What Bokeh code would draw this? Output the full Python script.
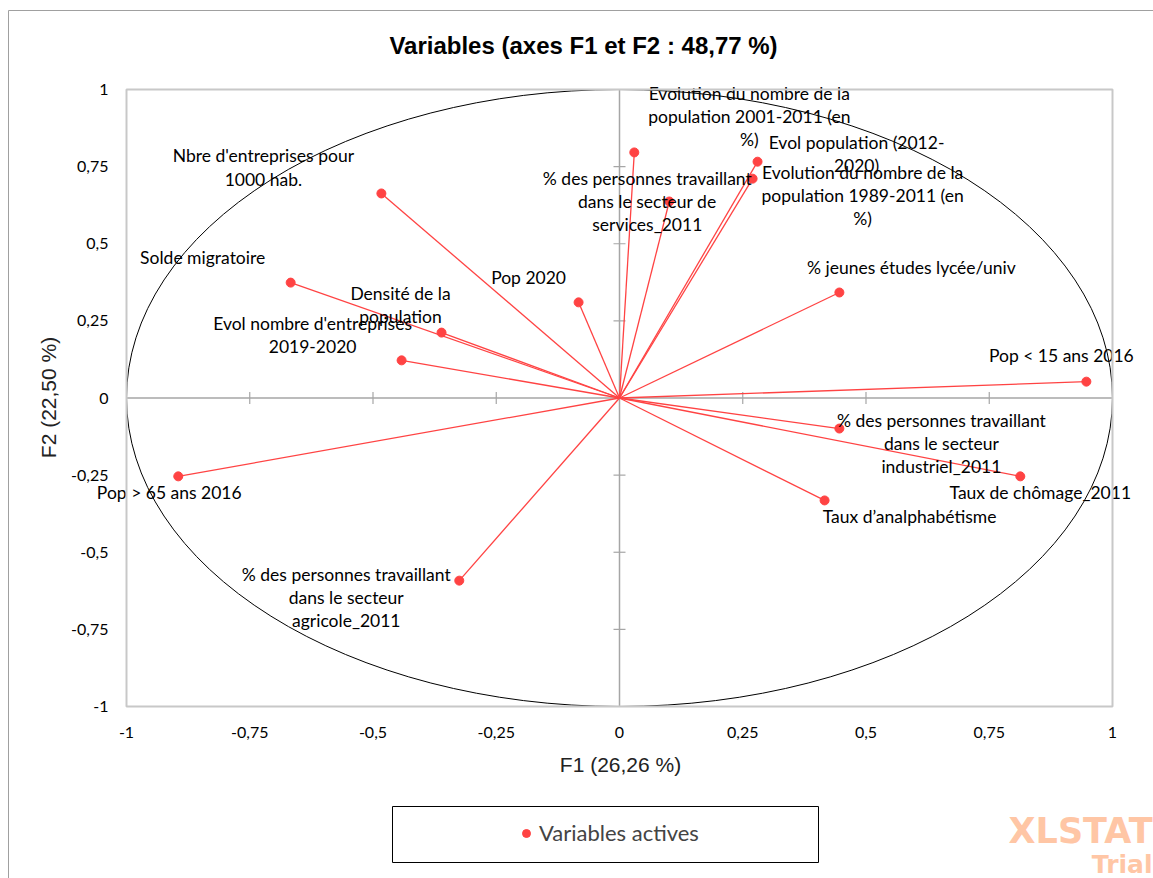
import math
from bokeh.plotting import figure
from bokeh.models import (ColumnDataSource, Label, Legend, LegendItem,
                          BoxAnnotation, FixedTicker)
from bokeh.core.properties import value
from bokeh.embed import file_html
from bokeh.resources import INLINE

# ---------------- data ----------------
variables = [
    "Evolution du nombre de la\npopulation 2001-2011 (en\n%)",
    "Evol population (2012-\n2020)",
    "Evolution du nombre de la\npopulation 1989-2011 (en\n%)",
    "% des personnes travaillant\ndans le secteur de\nservices_2011",
    "Nbre d'entreprises pour\n1000 hab.",
    "Solde migratoire",
    "Densité de la\npopulation",
    "Evol nombre d'entreprises\n2019-2020",
    "Pop 2020",
    "% jeunes études lycée/univ",
    "Pop < 15 ans 2016",
    "% des personnes travaillant\ndans le secteur\nindustriel_2011",
    "Taux de chômage_2011",
    "Taux d’analphabétisme",
    "Pop > 65 ans 2016",
    "% des personnes travaillant\ndans le secteur\nagricole_2011",
]
f1 = [0.030, 0.280, 0.270, 0.101, -0.483, -0.667, -0.361, -0.442,
      -0.083, 0.446, 0.947, 0.446, 0.813, 0.416, -0.895, -0.325]
f2 = [0.796, 0.766, 0.711, 0.637, 0.663, 0.374, 0.212, 0.122,
      0.310, 0.342, 0.053, -0.099, -0.254, -0.332, -0.254, -0.592]

ticks = [-1, -0.75, -0.5, -0.25, 0, 0.25, 0.5, 0.75, 1]
tick_labels = ["-1", "-0,75", "-0,5", "-0,25", "0", "0,25", "0,5", "0,75", "1"]

title_text = "Variables (axes F1 et F2 : 48,77 %)"
xlabel_text = "F1 (26,26 %)"
ylabel_text = "F2 (22,50 %)"
legend_text = "Variables actives"

# label placement (pixel offsets from each point)
label_dx = [115, 99, 110, -22, -118, -88, -41, -89, -50, 72, -25, 102, 20, 85, -9, -113]
label_dy = [-36, -8, 17, 0, -26, -25, -28, -25, -25, -25, -26, 15, 16, 16, 16, 17]

# ---------------- figure ----------------
W, H = 1153, 878
RED = "#FF4343"
GREY = "#A6A6A6"

# plotting box: x=-1..1 -> px 126..1112 ; y=1..-1 -> px 89..706
sx = (1112 - 126) / 2.0
sy = (706 - 89) / 2.0
x_rng = (-1 - 126 / sx, 1 + (W - 1112) / sx)
y_rng = (-1 - (H - 706) / sy, 1 + 89 / sy)

p = figure(width=W, height=H, x_range=x_rng, y_range=y_rng,
           min_border=0, min_border_left=0, min_border_right=0,
           min_border_top=0, min_border_bottom=0,
           output_backend="svg", toolbar_location=None,
           background_fill_color="white", border_fill_color="white")
p.title.visible = False
p.grid.visible = False
p.outline_line_color = None

for ax in (p.xaxis[0], p.yaxis[0]):
    ax.fixed_location = -1
    ax.ticker = FixedTicker(ticks=ticks)
    ax.major_label_overrides = dict(zip(ticks, tick_labels))
    ax.axis_line_color = None
    ax.major_tick_line_color = None
    ax.minor_tick_line_color = None
    ax.major_label_text_font = "Lato"
    ax.major_label_text_font_size = "16px"
    ax.major_label_text_color = "black"
p.xaxis.major_label_standoff = 14
p.yaxis.major_label_standoff = 12

# plotting box outline
p.add_layout(BoxAnnotation(left=-1, right=1, top=1, bottom=-1, fill_color=None,
                           line_color="#C8C8C8", line_alpha=1.0, line_width=2))

# correlation circle
p.ellipse(x=0, y=0, width=2, height=2, fill_color=None, line_color="black", line_width=1)

# centre axes
p.segment(x0=[-1, 0], y0=[0, -1], x1=[1, 0], y1=[0, 1], line_color=GREY, line_width=1.5)
inner = [t for t in ticks if abs(t) not in (0, 1)]
p.scatter(x=[0] * len(inner), y=inner, marker="dash", size=12, line_color=GREY, line_width=1.2)
p.scatter(x=inner, y=[0] * len(inner), marker="dash", size=12, angle=math.pi / 2,
          line_color=GREY, line_width=1.2)

src = ColumnDataSource(dict(f1=f1, f2=f2, label=variables, dx=label_dx, dy=label_dy,
                            x0=[0] * len(f1), y0=[0] * len(f1)))
p.segment(x0="x0", y0="y0", x1="f1", y1="f2", source=src, line_color=RED, line_width=1.3)
dots = p.scatter(x="f1", y="f2", source=src, size=9, fill_color=RED, line_color=RED)
p.text(x="f1", y="f2", text="label", x_offset="dx", y_offset="dy", source=src,
       text_align="center", text_baseline="middle", text_font=value("Lato"),
       text_font_size="17.5px", text_line_height=1.1, text_color="black")

# titles (screen units: x from left, y from bottom of canvas)
p.add_layout(Label(x=583, y=H - 45, x_units="screen", y_units="screen", text=title_text,
                   text_align="center", text_baseline="middle",
                   text_font="Liberation Sans", text_font_style="bold",
                   text_font_size="24px", text_color="black"))
p.add_layout(Label(x=620, y=H - 764, x_units="screen", y_units="screen", text=xlabel_text,
                   text_align="center", text_baseline="middle",
                   text_font="Liberation Sans", text_font_size="21px", text_color="#222222"))
p.add_layout(Label(x=48, y=H - 397, x_units="screen", y_units="screen", text=ylabel_text,
                   angle=math.pi / 2, text_align="center", text_baseline="middle",
                   text_font="Liberation Sans", text_font_size="21px", text_color="#222222"))

# legend
legend = Legend(items=[LegendItem(label=legend_text, renderers=[dots])],
                location=(516, 32), border_line_color=None, background_fill_alpha=0,
                label_text_font="Lato", label_text_font_size="22px", label_standoff=3,
                glyph_width=20, glyph_height=20, padding=10)
p.add_layout(legend)
p.add_layout(BoxAnnotation(left=392, right=818, top=H - 806, bottom=H - 862,
                           left_units="screen", right_units="screen",
                           top_units="screen", bottom_units="screen",
                           fill_color=None, line_color="black", line_alpha=1.0, line_width=1))
# outer chart border
p.add_layout(BoxAnnotation(left=8, right=W + 2, top=H - 10, bottom=-2,
                           left_units="screen", right_units="screen",
                           top_units="screen", bottom_units="screen",
                           fill_color=None, line_color="#A0A0A0", line_alpha=1.0, line_width=1))

# watermark
p.add_layout(Label(x=1152, y=H - 830, x_units="screen", y_units="screen", text="XLSTAT",
                   text_align="right", text_baseline="middle",
                   text_font="DejaVu Sans", text_font_style="bold",
                   text_font_size="35px", text_color="#FFC6A5"))
p.add_layout(Label(x=1152, y=H - 864, x_units="screen", y_units="screen", text="Trial",
                   text_align="right", text_baseline="middle",
                   text_font="DejaVu Sans", text_font_style="bold",
                   text_font_size="25px", text_color="#FFC6A5"))

open("out.html", "w").write(file_html(p, INLINE))
